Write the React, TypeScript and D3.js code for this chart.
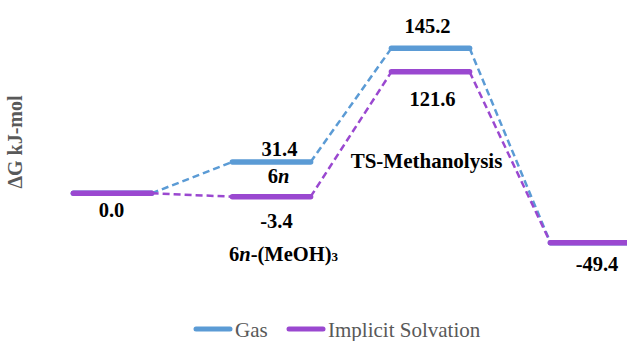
import React from "react";
import * as d3 from "d3";

const stages = ["Reactant", "6n", "TS-Methanolysis", "Product"];
const gasValues = [0.0, 31.4, 145.2, -49.4];
const solvValues = [0.0, -3.4, 121.6, -49.4];
const seriesNames = ["Gas", "Implicit Solvation"];
const seriesColors = ["#5B9BD5", "#9A48D0"];

const W = 627;
const H = 341;
const FONT = "Liberation Serif";

export default function App() {
  const x = d3.scaleLinear().domain([0, 3]).range([112.5, 589.5]);
  const y = d3.scaleLinear().domain([0, 145.2]).range([193.3, 48.3]);
  const half = 0.246;

  const lineGen = d3
    .line<[number, number]>()
    .x((d) => x(d[0]))
    .y((d) => y(d[1]));

  const series = [gasValues, solvValues];

  const connectors = (vals: number[]) =>
    vals.slice(0, -1).map((v, i) => [
      [i + half, v],
      [i + 1 - half, vals[i + 1]],
    ] as [number, number][]);

  const levels = (vals: number[]) =>
    vals.map((v, i) => [
      [i - half, v],
      [i + half, v],
    ] as [number, number][]);

  const lab = { fontFamily: FONT, fontWeight: 700, fontSize: 20.5, fill: "#000" };

  return (
    <svg
      width={W}
      height={H}
      style={{ position: "absolute", left: 0, top: 0, background: "#fff" }}
    >
      {series.map((vals, s) => (
        <g key={s}>
          {connectors(vals).map((seg, i) => (
            <path
              key={"c" + i}
              d={lineGen(seg) || ""}
              fill="none"
              stroke={seriesColors[s]}
              strokeWidth={2.5}
              strokeDasharray="7,4"
            />
          ))}
          {levels(vals).map((seg, i) => (
            <path
              key={"l" + i}
              d={lineGen(seg) || ""}
              fill="none"
              stroke={seriesColors[s]}
              strokeWidth={5.5}
              strokeLinecap="round"
            />
          ))}
        </g>
      ))}

      {/* value labels */}
      <text x={x(0) - 1} y={y(solvValues[0]) + 24} textAnchor="middle" {...lab}>
        {solvValues[0].toFixed(1)}
      </text>
      <text x={x(1) + 8} y={y(gasValues[1]) - 6} textAnchor="middle" {...lab}>
        {gasValues[1].toFixed(1)}
      </text>
      <text x={x(1) + 7} y={y(gasValues[1]) + 21} textAnchor="middle" {...lab}>
        6<tspan fontStyle="italic">n</tspan>
      </text>
      <text x={x(1) + 5} y={y(solvValues[1]) + 31} textAnchor="middle" {...lab}>
        {solvValues[1].toFixed(1)}
      </text>
      <text x={229} y={y(solvValues[1]) + 64} {...lab}>
        6<tspan fontStyle="italic">n</tspan>-(MeOH)<tspan fontSize={13}>3</tspan>
      </text>
      <text x={x(2) - 3} y={y(gasValues[2]) - 15} textAnchor="middle" {...lab}>
        {gasValues[2].toFixed(1)}
      </text>
      <text x={x(2) + 2} y={y(solvValues[2]) + 34} textAnchor="middle" {...lab}>
        {solvValues[2].toFixed(1)}
      </text>
      <text x={x(2) - 4} y={168} textAnchor="middle" {...lab} fontSize={21}>
        {stages[2]}
      </text>
      <text x={597} y={y(solvValues[3]) + 28} textAnchor="middle" {...lab}>
        {solvValues[3].toFixed(1)}
      </text>

      {/* axis title */}
      <text
        transform={`translate(22,142) rotate(-90)`}
        textAnchor="middle"
        fontFamily={FONT}
        fontWeight={700}
        fontSize={20}
        fill="#595959"
      >
        ΔG kJ-mol
      </text>

      {/* legend */}
      {seriesNames.map((name, i) => {
        const lx = i === 0 ? 194 : 287;
        return (
          <g key={name}>
            <line
              x1={lx + 2}
              x2={lx + 36}
              y1={329}
              y2={329}
              stroke={seriesColors[i]}
              strokeWidth={5}
              strokeLinecap="round"
            />
            <text x={lx + 41} y={337} fontFamily={FONT} fontSize={21} fill="#595959">
              {name}
            </text>
          </g>
        );
      })}
    </svg>
  );
}
